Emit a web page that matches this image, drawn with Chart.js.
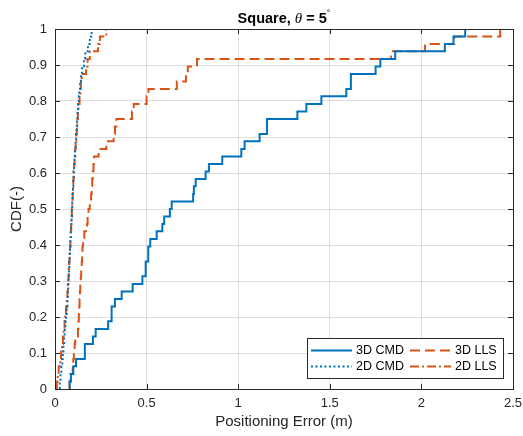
<!DOCTYPE html>
<html>
<head>
<meta charset="utf-8">
<script src="https://cdn.jsdelivr.net/npm/chart.js@4"></script>
<style>
  html, body { margin: 0; padding: 0; background: #fff; }
</style>
</head>
<body>
<canvas id="myChart" width="523" height="436"></canvas>
<script>
// CDF steps: error (m) and CDF level after each step
const cmd3dX = [0.08, 0.08, 0.087, 0.1, 0.115, 0.163, 0.207, 0.222, 0.29, 0.309, 0.327, 0.364, 0.424, 0.477, 0.495,
  0.509, 0.52, 0.555, 0.586, 0.596, 0.627, 0.637, 0.754, 0.758, 0.768, 0.822, 0.84, 0.913, 1.017, 1.035,
  1.117, 1.157, 1.323, 1.372, 1.454, 1.59, 1.615, 1.75, 1.776, 1.857, 2.128, 2.175, 2.239];
const cmd3dY = [0, 0.021, 0.042, 0.063, 0.083, 0.125, 0.146, 0.167, 0.188, 0.229, 0.25, 0.271, 0.292, 0.313, 0.354,
  0.396, 0.417, 0.438, 0.458, 0.479, 0.5, 0.521, 0.542, 0.563, 0.583, 0.604, 0.625, 0.646, 0.667, 0.688,
  0.708, 0.75, 0.771, 0.792, 0.813, 0.833, 0.875, 0.896, 0.917, 0.938, 0.958, 0.979, 1];

const lls3dX = [0.08, 0.08, 0.083, 0.097, 0.1, 0.103, 0.107, 0.11, 0.125, 0.128, 0.13, 0.132, 0.134, 0.136, 0.138,
  0.141, 0.143, 0.146, 0.148, 0.15, 0.153, 0.16, 0.175, 0.178, 0.183, 0.19, 0.197, 0.2, 0.203, 0.206,
  0.21, 0.213, 0.238, 0.28, 0.32, 0.327, 0.335, 0.42, 0.43, 0.5, 0.51, 0.665, 0.715, 0.725, 0.775,
  1.835, 2.02, 2.18, 2.43];
const lls3dY = [0, 0.021, 0.042, 0.063, 0.083, 0.104, 0.125, 0.146, 0.167, 0.188, 0.208, 0.229, 0.25, 0.271, 0.292,
  0.313, 0.333, 0.354, 0.375, 0.396, 0.417, 0.438, 0.458, 0.479, 0.5, 0.521, 0.542, 0.563, 0.583, 0.604,
  0.625, 0.646, 0.667, 0.688, 0.708, 0.729, 0.75, 0.771, 0.792, 0.813, 0.833, 0.854, 0.875, 0.896, 0.917,
  0.938, 0.958, 0.979, 1];

const cmd2dX = [0.026, 0.026, 0.03, 0.035, 0.04, 0.043, 0.046, 0.05, 0.053, 0.056, 0.06, 0.064, 0.068, 0.07, 0.072,
  0.074, 0.076, 0.078, 0.08, 0.082, 0.084, 0.086, 0.088, 0.09, 0.092, 0.094, 0.096, 0.098, 0.1, 0.102,
  0.104, 0.106, 0.109, 0.112, 0.115, 0.118, 0.12, 0.123, 0.126, 0.13, 0.133, 0.137, 0.142, 0.148, 0.158,
  0.165, 0.18, 0.19, 0.2];
const cmd2dY = [0, 0.021, 0.042, 0.063, 0.083, 0.104, 0.125, 0.146, 0.167, 0.188, 0.208, 0.229, 0.25, 0.271, 0.292,
  0.313, 0.333, 0.354, 0.375, 0.396, 0.417, 0.438, 0.458, 0.479, 0.5, 0.521, 0.542, 0.563, 0.583, 0.604,
  0.625, 0.646, 0.667, 0.688, 0.708, 0.729, 0.75, 0.771, 0.792, 0.813, 0.833, 0.854, 0.875, 0.896, 0.917,
  0.938, 0.958, 0.979, 1];

const lls2dX = [0.01, 0.01, 0.015, 0.02, 0.028, 0.033, 0.038, 0.043, 0.047, 0.052, 0.056, 0.06, 0.065, 0.068, 0.07,
  0.073, 0.075, 0.077, 0.08, 0.082, 0.084, 0.086, 0.088, 0.09, 0.092, 0.094, 0.096, 0.098, 0.1, 0.102,
  0.104, 0.107, 0.11, 0.113, 0.116, 0.119, 0.122, 0.125, 0.128, 0.134, 0.138, 0.141, 0.146, 0.17, 0.178,
  0.19, 0.235, 0.245, 0.28];
const lls2dY = [0, 0.021, 0.042, 0.063, 0.083, 0.104, 0.125, 0.146, 0.167, 0.188, 0.208, 0.229, 0.25, 0.271, 0.292,
  0.313, 0.333, 0.354, 0.375, 0.396, 0.417, 0.438, 0.458, 0.479, 0.5, 0.521, 0.542, 0.563, 0.583, 0.604,
  0.625, 0.646, 0.667, 0.688, 0.708, 0.729, 0.75, 0.771, 0.792, 0.813, 0.833, 0.854, 0.875, 0.896, 0.917,
  0.938, 0.958, 0.979, 1];

const seriesNames = ['3D CMD', '3D LLS', '2D CMD', '2D LLS'];

const BLUE = '#0072BD';
const ORANGE = '#D95319';
const INK = '#262626';
const FONT = '"Liberation Sans", Arial, Helvetica, sans-serif';

function toPoints(xs, ys) {
  return xs.map((x, i) => ({ x: x, y: ys[i] }));
}

function makeSet(label, xs, ys, color, dash) {
  return {
    label: label,
    data: toPoints(xs, ys),
    borderColor: color,
    backgroundColor: color,
    borderWidth: 2,
    borderDash: dash,
    stepped: 'before',
    pointRadius: 0,
    fill: false,
  };
}

// matlab prints 1 and 2, not 1.0 / 2.0
function tickText(value) {
  return String(Number(value.toFixed(2)));
}

// title, box with inward ticks and the legend are drawn matlab-style here
const matlabFrame = {
  id: 'matlabFrame',
  afterDraw(chart) {
    const { ctx, chartArea: a, scales } = chart;
    const x = scales.x;
    const y = scales.y;
    ctx.save();

    // box + ticks
    ctx.strokeStyle = INK;
    ctx.lineWidth = 1;
    ctx.setLineDash([]);
    ctx.beginPath();
    x.ticks.forEach((t) => {
      const px = Math.round(x.getPixelForValue(t.value)) + 0.5;
      ctx.moveTo(px, a.bottom);
      ctx.lineTo(px, a.bottom - 5);
      ctx.moveTo(px, a.top);
      ctx.lineTo(px, a.top + 5);
    });
    y.ticks.forEach((t) => {
      const py = Math.round(y.getPixelForValue(t.value)) + 0.5;
      ctx.moveTo(a.left, py);
      ctx.lineTo(a.left + 5, py);
      ctx.moveTo(a.right, py);
      ctx.lineTo(a.right - 5, py);
    });
    ctx.stroke();
    ctx.strokeRect(Math.round(a.left) + 0.5, Math.round(a.top) + 0.5,
      Math.round(a.right) - Math.round(a.left), Math.round(a.bottom) - Math.round(a.top));

    // title: Square, θ = 5°
    const parts = [
      { t: 'Square, ', f: 'bold 14.5px ' + FONT, dy: 0 },
      { t: '\u03B8', f: 'italic 15px "Liberation Serif", "Times New Roman", serif', dy: 0 },
      { t: ' = 5', f: 'bold 14.5px ' + FONT, dy: 0 },
      { t: '\u00B0', f: '9px ' + FONT, dy: -7 },
    ];
    let total = 0;
    parts.forEach((p) => { ctx.font = p.f; p.w = ctx.measureText(p.t).width; total += p.w; });
    let tx = (a.left + a.right) / 2 - total / 2;
    ctx.fillStyle = '#000';
    ctx.textBaseline = 'alphabetic';
    ctx.textAlign = 'left';
    parts.forEach((p) => {
      ctx.font = p.f;
      ctx.fillText(p.t, tx, 23 + p.dy);
      tx += p.w;
    });

    // legend, two columns
    const lx = 307, ly = 338, lw = 196, lh = 40;
    ctx.fillStyle = '#fff';
    ctx.fillRect(lx, ly, lw, lh);
    ctx.strokeStyle = INK;
    ctx.lineWidth = 1;
    ctx.strokeRect(lx + 0.5, ly + 0.5, lw, lh);
    const cols = [311, 410];
    const rows = [350.5, 366.5];
    ctx.font = '12.5px ' + FONT;
    ctx.textBaseline = 'middle';
    chart.data.datasets.forEach((ds, i) => {
      const cx = cols[i % 2];
      const cy = rows[Math.floor(i / 2)];
      ctx.strokeStyle = ds.borderColor;
      ctx.lineWidth = ds.borderWidth;
      ctx.setLineDash(ds.borderDash || []);
      ctx.beginPath();
      ctx.moveTo(cx, cy);
      ctx.lineTo(cx + 41, cy);
      ctx.stroke();
      ctx.fillStyle = '#000';
      ctx.fillText(ds.label, cx + 45, cy);
    });
    ctx.restore();
  },
};

const ctx = document.getElementById('myChart').getContext('2d');
Chart.defaults.font.family = FONT;
Chart.defaults.color = INK;

const chart = new Chart(ctx, {
  type: 'line',
  data: {
    datasets: [
      makeSet(seriesNames[0], cmd3dX, cmd3dY, BLUE, []),
      makeSet(seriesNames[1], lls3dX, lls3dY, ORANGE, [10, 5]),
      makeSet(seriesNames[2], cmd2dX, cmd2dY, BLUE, [2, 2.5]),
      makeSet(seriesNames[3], lls2dX, lls2dY, ORANGE, [9, 3, 2, 3]),
    ],
  },
  options: {
    responsive: false,
    animation: false,
    devicePixelRatio: 1,
    layout: { padding: { top: 29, right: 0, left: 0, bottom: 0 } },
    plugins: {
      legend: { display: false },
      title: { display: false },
      tooltip: { enabled: false },
    },
    elements: { line: { tension: 0 } },
    scales: {
      x: {
        type: 'linear',
        min: 0,
        max: 2.5,
        ticks: { stepSize: 0.5, padding: 7, color: INK, font: { size: 13 }, callback: tickText },
        grid: { color: 'rgba(38,38,38,0.15)', drawTicks: false },
        border: { display: false },
        title: { display: true, text: 'Positioning Error (m)', color: INK, font: { size: 15 }, padding: { bottom: 5 } },
        afterFit(scale) {
          scale.height = 47;
          scale.paddingLeft = 0;
          scale.paddingRight = 10;
        },
      },
      y: {
        type: 'linear',
        min: 0,
        max: 1,
        ticks: { stepSize: 0.1, padding: 8, color: INK, font: { size: 13 }, callback: tickText },
        grid: { color: 'rgba(38,38,38,0.15)', drawTicks: false },
        border: { display: false },
        title: { display: true, text: 'CDF(-)', color: INK, font: { size: 15 }, padding: { top: 8 } },
        afterFit(scale) { scale.width = 55; },
      },
    },
  },
  plugins: [matlabFrame],
});
</script>
</body>
</html>
